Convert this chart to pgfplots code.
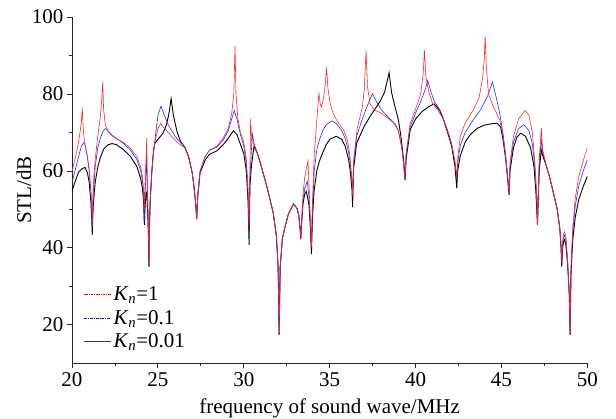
\documentclass[border=0pt]{standalone}
\usepackage{fontspec}
\setmainfont{Liberation Serif}
\usepackage{pgfplots}
\pgfplotsset{compat=1.18}
\begin{document}
\begin{tikzpicture}
\useasboundingbox (-72pt,-55.7pt) rectangle (544pt,363.3pt);
\begin{axis}[
  at={(0pt,0pt)}, anchor=south west,
  scale only axis, width=515.3pt, height=346.3pt,
  xmin=20, xmax=50, ymin=10, ymax=100,
  axis lines=left,
  axis line style={-, line width=0.8pt, black!85},
  xtick={20,25,...,50}, ytick={20,40,...,100},
  minor x tick num=1, minor y tick num=1,
  tick align=outside,
  major tick length=5pt, minor tick length=3pt,
  tick style={black!85, line width=0.8pt},
  /pgf/number format/assume math mode=true,
  tick label style={font=\fontsize{21}{24}\selectfont},
  xticklabel style={yshift=-1pt},
  xlabel={frequency of sound wave/MHz},
  ylabel={STL/dB},
  label style={font=\fontsize{21}{24}\selectfont},
  xlabel style={at={(axis description cs:0.5,0)}, anchor=base, yshift=-50pt},
  ylabel style={at={(axis description cs:-0.0932,0.5)}, anchor=center},
  legend cell align=left,
  legend image code/.code={\draw[#1] (0pt,0pt) -- (27pt,0pt);},
  legend style={draw=none, fill=none, at={(axis description cs:0.02,0.23)}, anchor=north west,
    font=\fontsize{21}{24}\selectfont, inner sep=1pt, row sep=4pt},
]
\addlegendimage{red, line width=1pt, dash pattern=on 1.6pt off 0.8pt}
\addlegendentry{\textit{K}\textsubscript{\textit{n}}=1}
\addlegendimage{blue, line width=0.8pt, dash pattern=on 3pt off 1pt on 0.8pt off 1pt}
\addlegendentry{\textit{K}\textsubscript{\textit{n}}=0.1}
\addlegendimage{black!75, line width=1pt}
\addlegendentry{\textit{K}\textsubscript{\textit{n}}=0.01}

% K_n = 0.01
\addplot[black, line width=0.9pt, forget plot] coordinates {
(20.0,54.7) (20.2,57.5) (20.4,59.8) (20.6,60.6) (20.76,60.9) (20.9,59.5) (21.0,57.0) (21.1,52.0) (21.15,47.5) (21.18,43.4) (21.21,48.0) (21.25,52.0) (21.35,57.0) (21.5,61.0) (21.65,63.5) (21.85,65.7) (22.1,66.8) (22.33,67.1) (22.6,66.8) (23.0,65.5) (23.4,63.8) (23.77,61.2) (24.0,58.0) (24.1,55.5) (24.17,52) (24.21,46.0) (24.26,51) (24.32,54.5) (24.36,54) (24.41,49) (24.45,43) (24.48,35.1) (24.51,45) (24.55,52) (24.65,60) (24.75,65.5) (24.83,67.2) (25.0,68.2) (25.3,69.8) (25.5,72.0) (25.65,75.0) (25.77,78.8) (25.9,74.5) (26.1,70.5) (26.3,67.8) (26.58,66.0) (26.8,63.5) (27.0,59.5) (27.1,56.0) (27.2,51.5) (27.26,47.5) (27.32,53.0) (27.45,59.4) (27.75,62.8) (28.0,64.3) (28.43,65.2) (28.8,66.8) (29.1,68.5) (29.3,69.8) (29.4,70.4) (29.6,69.5) (29.8,67.0) (30.0,64.5) (30.15,60.0) (30.25,52.0) (30.31,40.8) (30.36,56.0) (30.45,61.5) (30.6,66.4) (30.8,64.5) (31.0,61.5) (31.34,56.0) (31.72,49.0) (31.9,43.0) (32.0,35.0) (32.06,17.4) (32.12,35.0) (32.25,42.5) (32.41,45.6) (32.6,48.8) (32.89,51.4) (33.1,50.3) (33.2,48.5) (33.28,45.0) (33.32,42.3) (33.36,46.0) (33.45,51.5) (33.55,54.0) (33.63,54.7) (33.7,53.5) (33.8,51.0) (33.88,45.0) (33.94,38.4) (34.0,48.0) (34.1,55.0) (34.25,60.0) (34.4,62.5) (34.6,64.8) (34.8,66.8) (35.0,68.2) (35.38,69.0) (35.7,68.2) (35.9,66.5) (36.1,63.0) (36.2,60.0) (36.3,55.0) (36.34,50.6) (36.38,60.0) (36.57,67.2) (37.0,71.5) (37.36,74.2) (37.94,78.1) (38.2,80.5) (38.46,85.5) (38.6,80.5) (38.71,78.4) (38.9,75.0) (39.0,73.3) (39.15,69.0) (39.3,63.0) (39.39,57.7) (39.45,63.0) (39.69,70.7) (40.0,73.5) (40.4,75.5) (40.8,76.8) (41.08,77.4) (41.4,75.8) (41.63,73.3) (41.9,69.5) (42.1,66.5) (42.3,61.0) (42.4,55.5) (42.45,60.0) (42.6,63.8) (42.89,67.5) (43.2,69.5) (43.6,71.1) (44.0,71.9) (44.5,72.3) (44.73,72.4) (44.95,71.5) (45.1,68.0) (45.25,63.0) (45.38,57.0) (45.45,53.8) (45.5,60.0) (45.7,66.0) (45.9,68.8) (46.13,69.8) (46.4,69.0) (46.7,66.0) (46.9,61.0) (47.0,55.0) (47.1,46.0) (47.2,60.0) (47.32,65.5) (47.4,64.0) (47.6,61.5) (47.8,58.5) (48.03,54.2) (48.25,50.0) (48.4,45.0) (48.47,40.0) (48.51,35.1) (48.56,40.0) (48.62,41.5) (48.67,42.1) (48.75,41.0) (48.85,36.0) (48.95,28.0) (49.0,17.4) (49.05,33.0) (49.15,42.0) (49.3,48.0) (49.5,52.5) (49.75,55.8) (50.0,58.6)
};

% K_n = 0.1
\addplot[blue!85, line width=0.6pt, forget plot] coordinates {
(20.0,56.9) (20.2,60.5) (20.4,64.0) (20.55,66.5) (20.7,67.4) (20.8,66.0) (20.9,63.5) (21.0,60.0) (21.1,54.5) (21.15,50.0) (21.18,45.5) (21.21,50.5) (21.25,55.0) (21.35,61.0) (21.5,66.0) (21.65,68.5) (21.8,70.3) (21.94,71.0) (22.1,70.3) (22.33,69.3) (22.6,68.4) (23.0,67.1) (23.4,65.4) (23.77,63.0) (24.0,60.0) (24.1,57.5) (24.17,54) (24.21,47.0) (24.26,55) (24.32,60) (24.35,63.8) (24.38,57) (24.42,50) (24.45,44) (24.48,35.1) (24.51,45) (24.55,52) (24.65,60) (24.75,65.0) (24.83,68.0) (25.0,74.5) (25.18,76.8) (25.35,74.8) (25.6,72.0) (26.0,69.0) (26.3,67.5) (26.58,66.2) (26.8,63.5) (27.0,59.5) (27.1,56.0) (27.2,51.5) (27.26,47.5) (27.32,53.5) (27.45,59.8) (27.75,63.8) (28.0,65.3) (28.43,66.2) (28.8,68.0) (29.1,70.5) (29.3,73.5) (29.45,75.7) (29.6,73.5) (29.8,69.5) (30.0,66.5) (30.15,62.0) (30.25,54.0) (30.31,43.8) (30.36,58.0) (30.44,65) (30.5,69.6) (30.6,67.0) (30.8,64.5) (31.0,61.5) (31.34,56.0) (31.72,49.0) (31.9,43.0) (32.0,35.0) (32.06,17.4) (32.12,35.0) (32.25,42.5) (32.41,45.6) (32.6,48.8) (32.89,51.4) (33.1,50.3) (33.2,48.5) (33.28,45.0) (33.32,42.3) (33.36,46.0) (33.45,52.5) (33.55,55.5) (33.7,57.3) (33.8,53.0) (33.88,46.0) (33.94,40.0) (34.0,50.0) (34.1,60.0) (34.25,65.5) (34.4,68.0) (34.6,70.5) (34.8,72.0) (35.12,73.0) (35.4,72.3) (35.7,70.5) (35.9,68.5) (36.1,65.0) (36.2,62.0) (36.3,57.0) (36.34,53.4) (36.4,62.0) (36.57,69.0) (36.9,73.5) (37.2,77.0) (37.49,80.1) (37.7,78.2) (38.0,75.9) (38.4,74.0) (38.8,72.3) (39.0,70.5) (39.2,66.0) (39.3,62.0) (39.39,57.7) (39.45,64.0) (39.69,71.5) (40.0,75.0) (40.3,78.0) (40.55,81.0) (40.71,83.5) (40.9,80.5) (41.1,78.0) (41.4,76.0) (41.63,73.5) (41.9,70.0) (42.1,67.0) (42.3,62.0) (42.4,58.0) (42.45,62.0) (42.6,66.5) (42.89,70.0) (43.37,73.3) (43.8,76.0) (44.2,79.5) (44.48,83.1) (44.65,80.0) (44.9,75.0) (45.1,69.5) (45.25,64.0) (45.38,58.0) (45.45,53.8) (45.5,61.0) (45.7,67.5) (46.0,71.0) (46.3,72.0) (46.6,70.5) (46.8,67.0) (46.95,61.0) (47.05,54.0) (47.1,46.0) (47.2,62.0) (47.32,68.1) (47.4,65.0) (47.6,61.5) (47.8,58.5) (48.03,54.2) (48.25,50.0) (48.4,45.0) (48.47,40.5) (48.51,36.0) (48.56,41.0) (48.62,42.8) (48.67,43.3) (48.75,42.0) (48.85,36.5) (48.95,28.0) (49.0,17.4) (49.05,34.0) (49.15,44.0) (49.3,51.0) (49.5,56.0) (49.75,59.8) (50.0,62.9)
};

% K_n = 1
\addplot[red!85, line width=0.6pt, forget plot] coordinates {
(20.0,59.9) (20.2,63.5) (20.4,68.0) (20.5,71.0) (20.56,73.5) (20.6,76.4) (20.64,72.0) (20.7,68.5) (20.8,66.0) (20.9,63.5) (21.0,60.5) (21.1,55.0) (21.15,50.5) (21.18,46.0) (21.21,52.0) (21.25,57.0) (21.35,63.0) (21.5,69.0) (21.65,74.0) (21.74,79.0) (21.79,83.1) (21.84,76.0) (21.94,72.0) (22.1,70.3) (22.33,69.1) (22.6,68.3) (23.0,67.4) (23.4,65.9) (23.77,63.8) (24.0,61.0) (24.1,58.5) (24.17,55) (24.21,50.0) (24.26,58) (24.32,64) (24.35,68.5) (24.38,58) (24.42,50) (24.45,44) (24.48,35.1) (24.51,45) (24.55,52) (24.65,60) (24.75,65.0) (24.83,67.5) (25.0,71.0) (25.16,72.3) (25.4,71.0) (25.7,69.5) (26.0,68.0) (26.3,66.8) (26.58,66.0) (26.8,63.5) (27.0,59.5) (27.1,56.0) (27.2,51.5) (27.26,47.5) (27.32,53.5) (27.45,59.8) (27.75,63.8) (28.0,65.4) (28.43,66.4) (28.8,68.5) (29.1,71.0) (29.3,75.0) (29.42,80.0) (29.49,92.4) (29.55,80.0) (29.65,74.0) (29.8,70.0) (30.0,67.5) (30.15,63.0) (30.25,55.0) (30.31,45.0) (30.35,58.0) (30.4,73.6) (30.45,68.0) (30.5,67.5) (30.6,66.8) (30.8,64.5) (31.0,61.5) (31.34,56.0) (31.72,49.0) (31.9,43.0) (32.0,35.0) (32.06,17.4) (32.12,35.0) (32.25,42.5) (32.41,45.6) (32.6,48.8) (32.89,51.4) (33.1,50.3) (33.2,48.5) (33.28,45.0) (33.32,42.3) (33.36,46.0) (33.45,54.0) (33.55,58.5) (33.74,62.6) (33.8,56.0) (33.88,47.0) (33.94,40.5) (34.0,52.0) (34.1,64.0) (34.2,70.0) (34.3,76.0) (34.38,80.1) (34.45,77.5) (34.52,76.6) (34.65,79.0) (34.75,82.5) (34.82,86.8) (34.9,81.5) (35.03,77.5) (35.2,75.0) (35.4,73.2) (35.8,70.7) (36.0,68.5) (36.1,66.5) (36.2,63.0) (36.3,57.5) (36.34,53.4) (36.4,63.0) (36.6,71.0) (36.9,76.5) (37.02,81.5) (37.12,91.3) (37.2,82.0) (37.35,77.5) (37.6,75.8) (37.94,75.2) (38.3,74.0) (38.71,72.5) (39.0,70.5) (39.2,66.0) (39.3,62.0) (39.39,57.7) (39.45,64.5) (39.69,72.3) (40.0,76.0) (40.3,80.0) (40.44,85.0) (40.52,91.3) (40.6,84.5) (40.8,80.0) (41.0,77.5) (41.3,75.8) (41.63,73.3) (41.9,70.0) (42.1,67.0) (42.3,62.5) (42.4,58.0) (42.45,63.0) (42.6,69.0) (42.89,72.4) (43.37,75.9) (43.7,79.0) (43.9,84.0) (44.0,89.0) (44.05,95.0) (44.12,87.0) (44.25,80.0) (44.5,77.0) (44.9,73.3) (45.1,69.0) (45.25,63.5) (45.38,57.5) (45.45,53.8) (45.5,62.0) (45.7,69.0) (46.0,73.5) (46.38,75.7) (46.6,74.5) (46.8,70.0) (46.95,62.0) (47.05,54.0) (47.1,46.0) (47.2,63.0) (47.32,71.1) (47.4,65.5) (47.6,61.5) (47.8,58.5) (48.03,54.2) (48.25,50.0) (48.4,45.0) (48.47,41.0) (48.51,37.0) (48.56,41.5) (48.62,43.7) (48.67,44.2) (48.75,43.0) (48.85,37.0) (48.95,28.0) (49.0,17.4) (49.05,35.0) (49.15,45.0) (49.3,53.0) (49.5,58.5) (49.75,62.5) (50.0,65.9)
};
\end{axis}
\end{tikzpicture}
\end{document}
